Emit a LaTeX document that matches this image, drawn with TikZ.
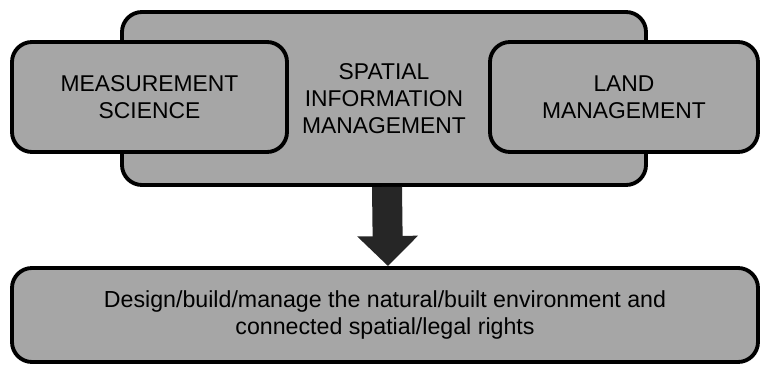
\documentclass[tikz,border=0pt]{standalone}
\usepackage{xcolor}
\usepackage{fontspec}
\setmainfont{Liberation Sans}
\usepackage{tikz}
\usetikzlibrary{arrows.meta}
\usetikzlibrary{calc}

\definecolor{boxgray}{HTML}{A6A6A6}
\definecolor{arrowgray}{HTML}{262626}

\begin{document}
\begin{tikzpicture}[box/.style={draw=black,line width=2.2pt,fill=boxgray,rounded corners=0.4cm,align=center,inner sep=0pt,font=\fontsize{13}{15.5}\selectfont},
   bigarrow/.style={draw=arrowgray,line width=0.6cm,-{Triangle[width=1.18cm,length=0.6cm]}}]
\useasboundingbox (0,0) rectangle (15.2,7.3);
% the three fields
\node[box,minimum width=10.48cm,minimum height=3.46cm] (sim) at (7.68,5.33) {SPATIAL\\INFORMATION\\MANAGEMENT};
\node[box,minimum width=5.5cm,minimum height=2.2cm] (ms) at (2.99,5.36) {MEASUREMENT\\SCIENCE};
\node[box,minimum width=5.36cm,minimum height=2.2cm] (lm) at (12.48,5.36) {LAND\\MANAGEMENT};
% what they lead to
\node[box,minimum width=14.92cm,minimum height=1.88cm,font=\fontsize{13.2}{15.8}\selectfont] (goal) at (7.70,1.0) {Design/build/manage the natural/built environment and\\connected spatial/legal rights};
\draw[bigarrow] ([xshift=0.06cm]sim.south) -- ([xshift=0.06cm]goal.north);
\end{tikzpicture}
\end{document}
